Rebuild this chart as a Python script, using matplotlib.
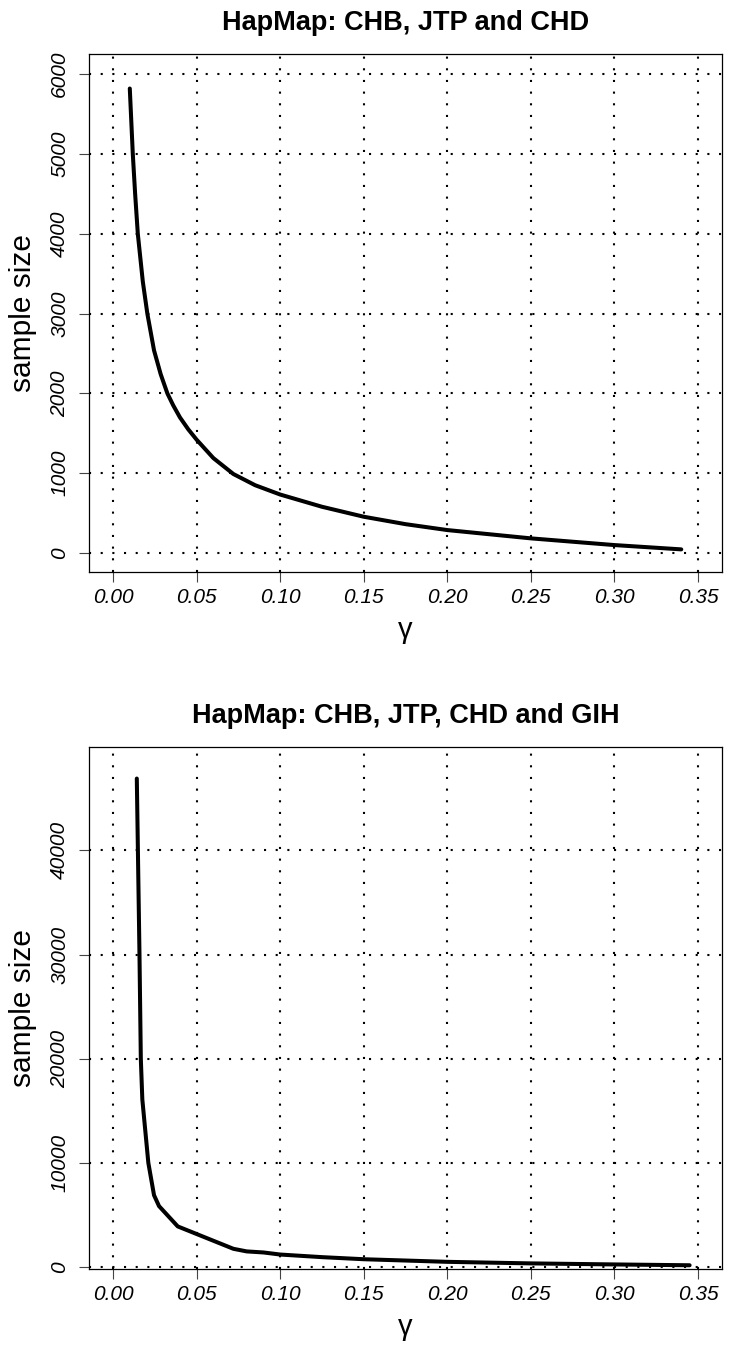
import matplotlib
matplotlib.use("Agg")
import matplotlib.pyplot as plt
import numpy as np

plt.rcParams['font.family'] = ['Liberation Sans', 'DejaVu Sans']

# panel 1: CHB, JTP and CHD
gamma1 = [0.010, 0.0118, 0.0132, 0.0148, 0.0178, 0.0205, 0.0245, 0.0285,
          0.0325, 0.036, 0.040, 0.045, 0.050, 0.060, 0.072, 0.085, 0.100, 0.125,
          0.150, 0.175, 0.200, 0.250, 0.300, 0.340]
size1 = [5820, 5000, 4500, 4000, 3400, 3000, 2540, 2240,
         2000, 1850, 1700, 1550, 1420, 1190, 990, 850, 733, 580,
         455, 362, 288, 184, 100, 46]

# panel 2: CHB, JTP, CHD and GIH
gamma2 = [0.0142, 0.0158, 0.0166, 0.0175, 0.0211, 0.0245, 0.0275, 0.0387, 0.072,
          0.080, 0.090, 0.100, 0.125, 0.150, 0.200, 0.250, 0.300, 0.345]
size2 = [46900, 30000, 20000, 16100, 10000, 6900, 5850, 3900, 1750,
         1500, 1400, 1200, 950, 750, 500, 350, 250, 170]

titles = ['HapMap: CHB, JTP and CHD', 'HapMap: CHB, JTP, CHD and GIH']
xticks = [0.00, 0.05, 0.10, 0.15, 0.20, 0.25, 0.30, 0.35]
yticks1 = [0, 1000, 2000, 3000, 4000, 5000, 6000]
yticks2 = [0, 10000, 20000, 30000, 40000]

fig = plt.figure(figsize=(7.43, 13.46), dpi=100)
ax1 = fig.add_axes([0.1198, 0.5750, 0.8520, 0.3848])
ax2 = fig.add_axes([0.1198, 0.0572, 0.8520, 0.3878])

panels = [(ax1, gamma1, size1, yticks1, (-238, 6251)),
          (ax2, gamma2, size2, yticks2, (-189, 49925))]

for i, (ax, g, s, yt, ylim) in enumerate(panels):
    ax.set_xlim(-0.0144, 0.3644)
    ax.set_ylim(*ylim)
    ax.set_xticks(xticks)
    ax.set_xticklabels(['%.2f' % v for v in xticks])
    ax.set_yticks(yt)
    ax.set_yticklabels([str(v) for v in yt], rotation=90, va='center')
    for lab in ax.get_xticklabels() + ax.get_yticklabels():
        lab.set_fontstyle('italic')
    ax.tick_params(direction='out', length=7.2, width=0.8, labelsize=15,
                   color='#444444')
    ax.tick_params(axis='x', pad=4)
    ax.tick_params(axis='y', pad=7)
    for sp in ax.spines.values():
        sp.set_linewidth(0.9)
        sp.set_color('black')
    ax.grid(True, color='black', linestyle=(0, (1, 4.6)), linewidth=1.5)
    ax.set_axisbelow(True)
    ax.plot(g, s, color='black', linewidth=2.9, solid_capstyle='round',
            solid_joinstyle='round', zorder=3)
    ax.set_title(titles[i], fontsize=19.5, fontweight='bold', pad=17)
    ax.set_xlabel('γ', fontsize=21)
    ax.xaxis.set_label_coords(0.5, -0.111)
    ax.xaxis.label.set_va('center')
    ax.set_ylabel('sample size', fontsize=21.5)
    ax.yaxis.set_label_coords(-0.104, 0.5)
    ax.yaxis.label.set_va('center')

fig.savefig('out.png', dpi=100)
